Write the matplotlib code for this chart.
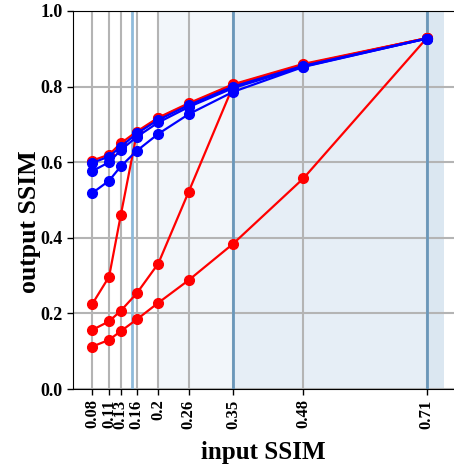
import matplotlib
matplotlib.use('Agg')
import matplotlib.pyplot as plt

# input SSIM levels (x positions) and their tick labels
input_ssim = [0.0795, 0.1116, 0.1337, 0.1638, 0.2045, 0.2619, 0.3455, 0.4782, 0.7110]
xtick_labels = ['0.08', '0.11', '0.13', '0.16', '0.2', '0.26', '0.35', '0.48', '0.71']

# output SSIM, red curves
red_1 = [0.604, 0.620, 0.650, 0.681, 0.718, 0.756, 0.806, 0.860, 0.928]
red_2 = [0.224, 0.297, 0.460, 0.676, 0.716, 0.754, 0.804, 0.858, 0.928]
red_3 = [0.156, 0.179, 0.207, 0.253, 0.332, 0.522, 0.801, 0.857, 0.928]
red_4 = [0.112, 0.130, 0.153, 0.184, 0.228, 0.288, 0.384, 0.557, 0.928]

# output SSIM, blue curves
blue_1 = [0.598, 0.615, 0.641, 0.676, 0.712, 0.751, 0.800, 0.855, 0.927]
blue_2 = [0.576, 0.600, 0.632, 0.667, 0.705, 0.746, 0.796, 0.853, 0.927]
blue_3 = [0.518, 0.551, 0.589, 0.630, 0.675, 0.727, 0.786, 0.852, 0.927]

# shaded bands and marker lines
bands = [(0.2045, 0.3455, '#f2f6fa'), (0.3455, 0.7110, '#e6eef6'), (0.7110, 0.7437, '#dbe7f1')]
vlines = [(0.155, '#8fbbdb'), (0.3455, '#6a97ba'), (0.7110, '#6a97ba')]

plt.rcParams['font.family'] = ['Liberation Serif', 'DejaVu Serif']
plt.rcParams['font.weight'] = 'bold'

fig = plt.figure(figsize=(4.54, 4.67), dpi=100)
ax = fig.add_axes([0.161, 0.167, 0.839, 0.8095])

for lo, hi, c in bands:
    ax.axvspan(lo, hi, color=c, lw=0, zorder=0.1)

ax.set_axisbelow(True)
ax.grid(True, color='#b4b4b4', linewidth=1.5)

for xv, c in vlines:
    ax.axvline(xv, color=c, linewidth=2, zorder=1)

for ys in [red_1, red_2, red_3, red_4]:
    ax.plot(input_ssim, ys, color='red', marker='o', markersize=7, linewidth=1.6, zorder=2)
for ys in [blue_1, blue_2, blue_3]:
    ax.plot(input_ssim, ys, color='blue', marker='o', markersize=7, linewidth=1.6, zorder=3)

ax.set_xlim(0.0437, 0.7625)
ax.set_ylim(0.0, 1.0)
ax.set_xticks(input_ssim)
ax.set_xticklabels(xtick_labels, rotation=90, fontsize=12, fontweight='bold')
ax.set_yticks([0.0, 0.2, 0.4, 0.6, 0.8, 1.0])
ax.set_yticklabels(['0.0', '0.2', '0.4', '0.6', '0.8', '1.0'], fontsize=13, fontweight='bold')
ax.spines['right'].set_visible(False)
ax.tick_params(direction='out', length=4, width=1)

ax.set_xlabel('input SSIM', fontsize=18, fontweight='bold', labelpad=9)
ax.set_ylabel('output SSIM', fontsize=18.5, fontweight='bold')
ax.yaxis.set_label_coords(-0.085, 0.442)

plt.savefig('out.png', dpi=100)
